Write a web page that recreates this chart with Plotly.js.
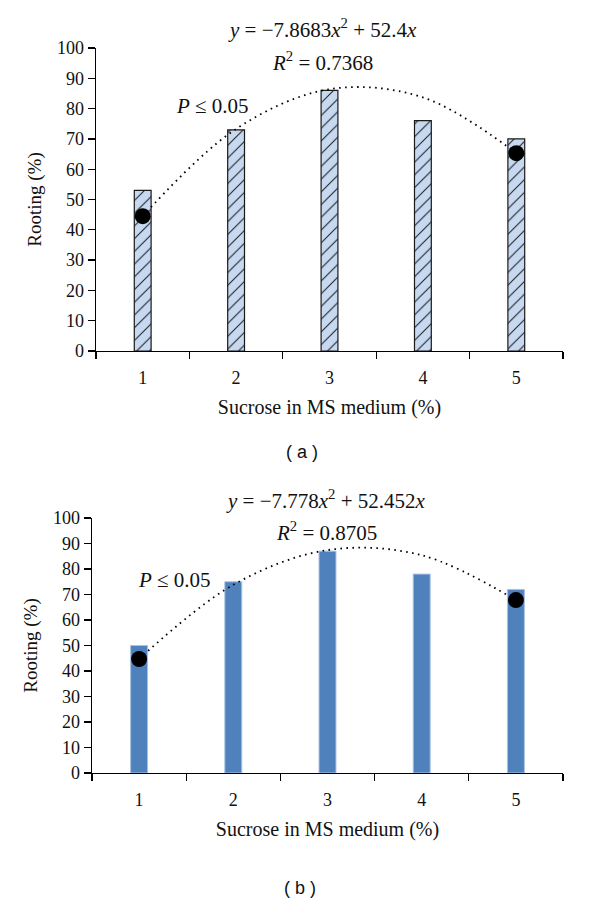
<!DOCTYPE html>
<html>
<head>
<meta charset="utf-8">
<script src="https://cdn.plot.ly/plotly-3.0.1.min.js"></script>
<style>html,body{margin:0;padding:0;background:#fff;}#chart{width:600px;height:920px;}</style>
</head>
<body>
<div id="chart"></div>
<script>
// ---- data ----
const categories = ['1', '2', '3', '4', '5'];
const rootingA = [53, 73, 86, 76, 70];
const rootingB = [50, 75, 87, 78, 72];
// trendline values
const trendA = [44.5, 73.3, 86.4, 83.7, 65.3];
const trendB = [44.7, 73.8, 87.4, 85.4, 67.8];
// black dots at the curve ends
const dotCats = ['1', '5'];
const dotsA = [44.5, 65.3];
const dotsB = [44.7, 67.8];
const yTicks = [0, 10, 20, 30, 40, 50, 60, 70, 80, 90, 100];
const eqA = '<i>y</i> = \u22127.8683<i>x</i><sup>2</sup> + 52.4<i>x</i>';
const r2A = '<i>R</i><sup>2</sup> = 0.7368';
const eqB = '<i>y</i> = \u22127.778<i>x</i><sup>2</sup> + 52.452<i>x</i>';
const r2B = '<i>R</i><sup>2</sup> = 0.8705';
const pText = '<i>P</i> \u2264 0.05';
const xTitle = 'Sucrose in MS medium (%)';
const yTitle = 'Rooting (%)';

const serif = 'Liberation Serif, Times New Roman, serif';
const W = 600, H = 920;
const px = v => v / W;
const py = v => 1 - v / H;

const dotLine = {color: '#000', dash: '1.6px,4.4px', width: 1.8, shape: 'spline', smoothing: 1};

const traces = [
  {type: 'bar', x: categories, y: rootingA, xaxis: 'x', yaxis: 'y', width: 0.18,
   marker: {color: '#c6d9f1', line: {color: '#1a1a1a', width: 1.2},
            pattern: {shape: '/', fgcolor: '#222', bgcolor: '#c6d9f1', size: 9, solidity: 0.12}},
   hoverinfo: 'skip'},
  {type: 'scatter', mode: 'lines', x: categories, y: trendA, xaxis: 'x', yaxis: 'y', line: dotLine},
  {type: 'scatter', mode: 'markers', x: dotCats, y: dotsA, xaxis: 'x', yaxis: 'y',
   marker: {color: '#000', size: 16}},
  {type: 'bar', x: categories, y: rootingB, xaxis: 'x2', yaxis: 'y2', width: 0.18,
   marker: {color: '#4f81bd', line: {color: '#a9c2e2', width: 1}},
   hoverinfo: 'skip'},
  {type: 'scatter', mode: 'lines', x: categories, y: trendB, xaxis: 'x2', yaxis: 'y2', line: dotLine},
  {type: 'scatter', mode: 'markers', x: dotCats, y: dotsB, xaxis: 'x2', yaxis: 'y2',
   marker: {color: '#000', size: 16}}
];

function xAxis(left, anchor) {
  return {
    domain: [px(left), px(563)], anchor: anchor, type: 'category',
    range: [-0.5, 4.5], tickson: 'boundaries', ticks: 'outside', ticklen: 7,
    tickwidth: 1.3, tickcolor: '#000', showline: true, linecolor: '#000', linewidth: 1.3,
    showgrid: false, zeroline: false, ticklabelstandoff: 10,
    tickfont: {family: serif, size: 18, color: '#111'},
    title: {text: xTitle, font: {family: serif, size: 20, color: '#111'}, standoff: 13}
  };
}
function yAxis(top, bottom, anchor) {
  return {
    domain: [py(bottom), py(top)], anchor: anchor, range: [0, 100],
    tickvals: yTicks, ticks: 'outside', ticklen: 7, tickwidth: 1.3, tickcolor: '#000',
    showline: true, linecolor: '#000', linewidth: 1.3, showgrid: false, zeroline: false,
    tickfont: {family: serif, size: 18, color: '#111'},
    title: {text: yTitle, font: {family: serif, size: 19, color: '#111'}, standoff: 10}
  };
}

const ann = (text, x, y, size, family) => ({
  text: text, xref: 'paper', yref: 'paper', x: px(x), y: py(y),
  xanchor: 'center', yanchor: 'middle', showarrow: false,
  font: {family: family || serif, size: size, color: '#111'}
});

const layout = {
  width: W, height: H, margin: {l: 0, r: 0, t: 0, b: 0},
  paper_bgcolor: '#fff', plot_bgcolor: '#fff', showlegend: false, bargap: 0,
  xaxis: xAxis(96, 'y'),
  yaxis: yAxis(48, 351, 'x'),
  xaxis2: xAxis(92, 'y2'),
  yaxis2: yAxis(518, 773, 'x2'),
  annotations: [
    ann(eqA, 322, 28, 21),
    ann(r2A, 322, 61, 21),
    ann(pText, 212, 106, 21),
    ann('( a )', 302, 452, 18, 'Liberation Sans, Arial, sans-serif'),
    ann(eqB, 326, 499, 21),
    ann(r2B, 326, 531, 21),
    ann(pText, 174, 580, 21),
    ann('( b )', 300, 888, 18, 'Liberation Sans, Arial, sans-serif')
  ]
};

Plotly.newPlot('chart', traces, layout, {staticPlot: true, displayModeBar: false});
</script>
</body>
</html>
